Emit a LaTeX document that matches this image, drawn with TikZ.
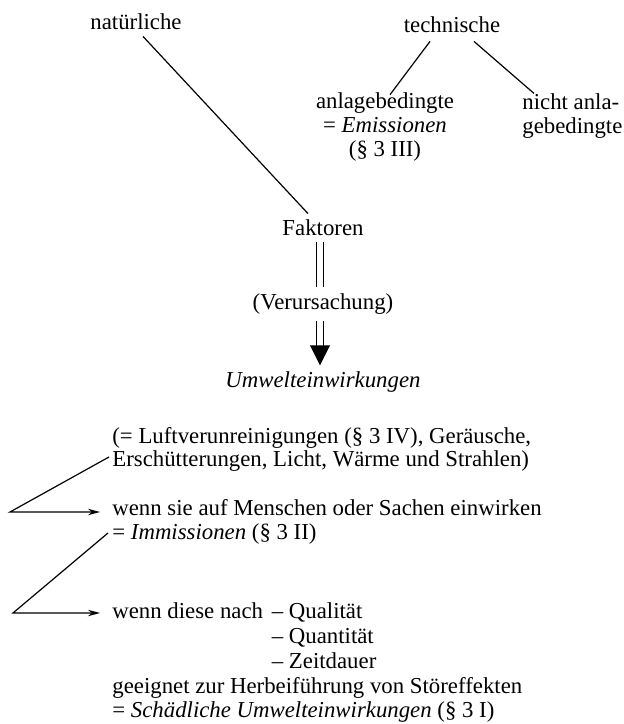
\documentclass[tikz,border=0pt]{standalone}
\usepackage{fontspec}
\setmainfont{Liberation Serif}
\usepackage{tikz}
\usetikzlibrary{arrows.meta,positioning}
\tikzset{
  txt/.style={inner sep=3pt, font=\fontsize{11.4}{11.8}\selectfont},
  blk/.style={txt, align=left, anchor=west},
  ast/.style={line width=0.6pt},
  dbl/.style={double, double distance=2.6pt, line width=0.5pt},
  bigflow/.style={dbl, -{Triangle[length=10pt, width=10pt]}},
  flow/.style={ast, -{Stealth[length=6pt, width=3.2pt]}},
}

\begin{document}
\begin{tikzpicture}[x=0.5pt, y=-0.5pt]
    \useasboundingbox (0,0) rectangle (623,724);
    % oberer Teil: Faktoren
    \node[txt] (nat) at (136,22) {natürliche};
    \node[txt] (tech) at (452,25) {technische};
    \node[txt, align=center] (anl) at (385,127) {anlagebedingte\\= \textit{Emissionen}\\(§ 3 III)};
    \node[blk] (nanl) at (516,116) {nicht anla-\\gebedingte};
    \node[txt] (fak) at (323,228) {Faktoren};
    \node[txt] (ver) at (323,304) {(Verursachung)};
    \node[txt] (umw) at (323,382) {\textit{Umwelteinwirkungen}};
    \draw[ast] ([xshift=3.5pt]nat.south) -- ([xshift=-7.5pt]fak.north);
    \draw[ast] ([xshift=-11pt, yshift=-1pt]tech.south) -- ([xshift=2.5pt, yshift=-4pt]anl.north);
    \draw[ast] ([xshift=11pt, yshift=-1pt]tech.south) -- ([xshift=9pt, yshift=-3pt]nanl.north west);
    \draw[dbl] ([xshift=-1.5pt]fak.south) -- ([xshift=-1.5pt]ver.north);
    \draw[bigflow] ([xshift=-1.5pt]ver.south) -- ([xshift=-1.5pt]umw.north);
    % unterer Teil: Immissionen
    \node[blk] (luft) at (106,449.5) {(= Luftverunreinigungen (§ 3 IV), Geräusche,\\Erschütterungen, Licht, Wärme und Strahlen)};
    \node[blk] (men) at (106,522) {wenn sie auf Menschen oder Sachen einwirken\\= \textit{Immissionen} (§ 3 II)};
    \node[txt, anchor=base west] (diese) at (106,618) {wenn diese nach};
    \node[txt, anchor=base west] (qual) at ([xshift=-2pt]diese.base east) {– Qualität};
    \foreach \i/\w in {1/Quantität, 2/Zeitdauer}
      \node[txt, anchor=base west] (q\i) at ([yshift=-\i*12.5pt]qual.base west) {– \w};
    \node[blk] (geeig) at (106,700) {geeignet zur Herbeiführung von Störeffekten\\= \textit{Schädliche Umwelteinwirkungen} (§ 3 I)};
    \coordinate (e1) at (109,457);
    \coordinate (v1) at (10,512);
    \coordinate (t1) at (100,512);
    \coordinate (e2) at (108,533);
    \coordinate (v2) at (13,613);
    \coordinate (t2) at (100,613);
    \draw[flow] (e1) -- (v1) -- (t1);
    \draw[flow] (e2) -- (v2) -- (t2);
\end{tikzpicture}
\end{document}
